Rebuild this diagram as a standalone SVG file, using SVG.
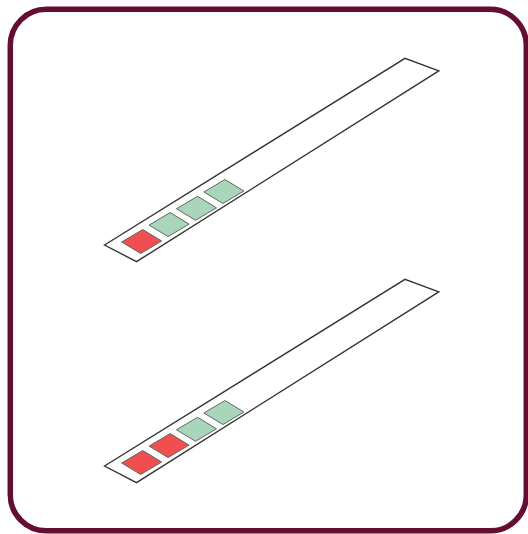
<svg xmlns="http://www.w3.org/2000/svg" width="528" height="534" viewBox="0 0 528 534">
<style>
.strip{fill:#fff;stroke:#333;stroke-width:1.4;stroke-linejoin:miter}
.sq{stroke:#5d6b62;stroke-width:1}
.red{fill:#ef4f4f}
.green{fill:#a9d5ba}
</style>
<defs>
<polygon id="sqshape" points="0,0 21,-12.5 40,-1 19,11.5"/>
</defs>
<rect x="10.3" y="9.3" width="516" height="521.5" rx="36" fill="#fff" stroke="#640f32" stroke-width="5.5"/>
<g id="strip1">
<polygon class="strip" points="104.5,245 405,58.3 438.8,70.8 136.5,261.7"/>
<use href="#sqshape" class="sq red" x="121.7" y="242"/>
<use href="#sqshape" class="sq green" x="149.1" y="225.1"/>
<use href="#sqshape" class="sq green" x="176.5" y="208.8"/>
<use href="#sqshape" class="sq green" x="203.9" y="192"/>
</g>
<g id="strip2" transform="translate(0,221)">
<polygon class="strip" points="104.5,245 405,58.3 438.8,70.8 136.5,261.7"/>
<use href="#sqshape" class="sq red" x="121.7" y="242"/>
<use href="#sqshape" class="sq red" x="149.1" y="225.1"/>
<use href="#sqshape" class="sq green" x="176.5" y="208.8"/>
<use href="#sqshape" class="sq green" x="203.9" y="192"/>
</g>
<g id="connectors"/>
</svg>
